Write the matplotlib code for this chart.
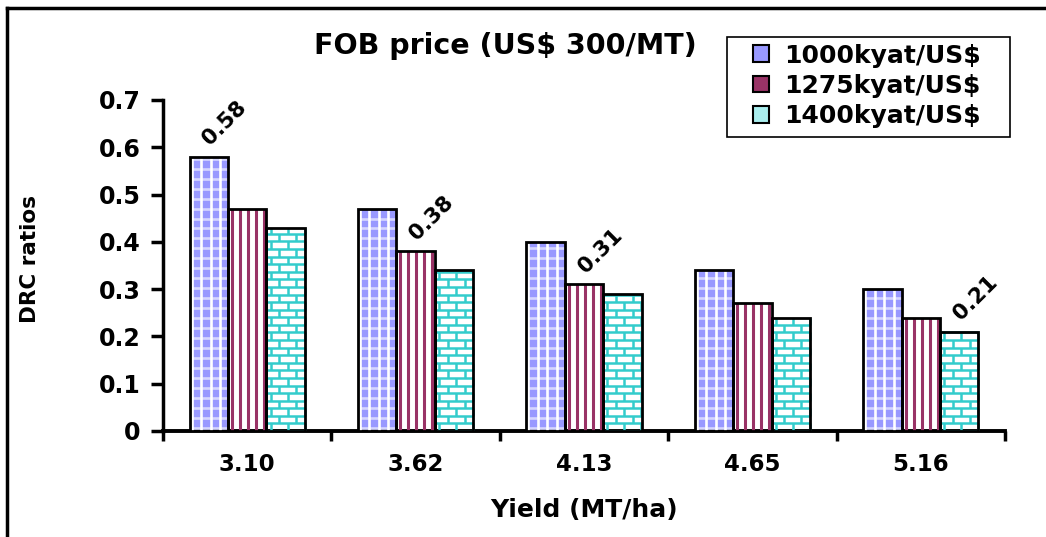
import matplotlib
matplotlib.use("Agg")
import matplotlib.pyplot as plt
from matplotlib.lines import Line2D
from matplotlib.patches import Patch, Rectangle
from matplotlib.collections import LineCollection
import numpy as np

plt.rcParams['font.family'] = ['DejaVu Sans']
plt.rcParams['font.weight'] = 'bold'

# Data
categories = ['3.10', '3.62', '4.13', '4.65', '5.16']
series_names = ['1000kyat/US$', '1275kyat/US$', '1400kyat/US$']
drc_1000 = [0.58, 0.47, 0.40, 0.34, 0.30]
drc_1275 = [0.47, 0.38, 0.31, 0.27, 0.24]
drc_1400 = [0.43, 0.34, 0.29, 0.24, 0.21]
yticks = [0, 0.1, 0.2, 0.3, 0.4, 0.5, 0.6, 0.7]
ytick_labels = ['0', '0.1', '0.2', '0.3', '0.4', '0.5', '0.6', '0.7']
# (series index, category index) of the bars carrying a value label
labelled = [(0, 0), (1, 1), (1, 2), (2, 4)]

blue = '#9999ff'
wine = '#993366'
teal = '#33cccc'

fig = plt.figure(figsize=(10.46, 5.37), dpi=100)
ax = fig.add_axes([0.1558, 0.1974, 0.9608 - 0.1558, 0.8138 - 0.1974])

x = np.arange(len(categories))
w = 0.228
series = [drc_1000, drc_1275, drc_1400]
offsets = [-w, 0, w]

# Fill patterns are drawn as line work inside each bar (data units)
px_x = 1.0 / 168.4      # one pixel along x
px_y = 0.1 / 47.4       # one pixel along y


def plaid_segments(x0, wd, h):
    vert, horiz = [], []
    step_x, step_y = 9.5 * px_x, 10 * px_y
    for xv in np.arange(x0 + 2 * px_x, x0 + wd, step_x):
        vert.append([(xv, 0), (xv, h)])
    for yv in np.arange(3 * px_y, h, step_y):
        horiz.append([(x0, yv), (x0 + wd, yv)])
    return vert, horiz


def stripe_segments(x0, wd, h):
    step = 8 * px_x
    return [[(xv, 0), (xv, h)]
            for xv in np.arange(x0 + 4 * px_x, x0 + wd - px_x, step)]


def brick_segments(x0, wd, h):
    dy, dx = 7.6 * px_y, 17 * px_x
    segs = []
    k = 0
    while k * dy < h:
        y = k * dy
        y_top = min(y + dy, h)
        segs.append([(x0, y), (x0 + wd, y)])
        off = (k % 2) * dx / 2
        for xv in np.arange(x0 + dx / 4 + off, x0 + wd, dx):
            segs.append([(xv, y), (xv, y_top)])
        k += 1
    return segs


# Series 1: blue plaid
c0 = ax.bar(x + offsets[0], drc_1000, w, color=blue, linewidth=0, zorder=2)
for p in c0.patches:
    vert, horiz = plaid_segments(p.get_x(), p.get_width(), p.get_height())
    ax.add_collection(LineCollection(horiz, colors='#d6d6ff',
                                     linewidths=1.9, zorder=3))
    ax.add_collection(LineCollection(vert, colors='white',
                                     linewidths=1.9, zorder=3))

# Series 2: vertical wine stripes
c1 = ax.bar(x + offsets[1], drc_1275, w, color='white', linewidth=0, zorder=2)
for p in c1.patches:
    ax.add_collection(LineCollection(
        stripe_segments(p.get_x(), p.get_width(), p.get_height()),
        colors=wine, linewidths=2.2, zorder=3))

# Series 3: teal brick
c2 = ax.bar(x + offsets[2], drc_1400, w, color='white', linewidth=0, zorder=2)
for p in c2.patches:
    ax.add_collection(LineCollection(
        brick_segments(p.get_x(), p.get_width(), p.get_height()),
        colors=teal, linewidths=1.8, zorder=3))

# Black outlines on top of all bars
for vals, off in zip(series, offsets):
    ax.bar(x + off, vals, w, facecolor='none', edgecolor='black',
           linewidth=2.0, zorder=4)

# Value labels
for si, ci in labelled:
    v = series[si][ci]
    ax.text(x[ci] + offsets[si] + 0.01, v + 0.022, f'{v:.2f}',
            rotation=45, rotation_mode='anchor', ha='left', va='baseline',
            fontsize=15.5, fontweight='bold', zorder=5)

ax.set_xlim(-0.5, len(categories) - 0.5)
ax.set_ylim(0, 0.7)
ax.set_yticks(yticks)
ax.set_yticklabels(ytick_labels, fontsize=17, fontweight='bold')
ax.set_xticks(np.arange(len(categories) + 1) - 0.5)
ax.set_xticklabels([])
ax.set_xticks(x, minor=True)
ax.set_xticklabels(categories, minor=True, fontsize=16.5, fontweight='bold')
ax.tick_params(axis='x', which='minor', length=0, pad=16)
ax.tick_params(axis='x', which='major', length=7, width=2.5, direction='out')
ax.tick_params(axis='y', length=9, width=2.5, direction='out', pad=7)
for s in ['top', 'right']:
    ax.spines[s].set_visible(False)
ax.spines['left'].set_linewidth(2.5)
ax.spines['bottom'].set_linewidth(2.8)

ax.set_xlabel('Yield (MT/ha)', fontsize=18, fontweight='bold', labelpad=16)
fig.text(0.029, 0.518, 'DRC ratios', rotation=90, ha='center', va='center',
         fontsize=15.5, fontweight='bold')
fig.text(0.483, 0.915, 'FOB price (US$ 300/MT)', ha='center', va='center',
         fontsize=20.5, fontweight='bold')

# Legend
handles = [Patch(facecolor=blue, edgecolor='black', linewidth=1.5),
           Patch(facecolor=wine, edgecolor='black', linewidth=1.5),
           Patch(facecolor='#aaeeee', edgecolor='black', linewidth=1.5)]
leg = fig.legend(handles, series_names, loc='upper left',
                 bbox_to_anchor=(745 / 1046, 1 - 36 / 537), frameon=False,
                 prop={'weight': 'bold', 'size': 18},
                 handlelength=0.65, handleheight=0.65, handletextpad=0.6,
                 labelspacing=0.25, borderpad=0.3, borderaxespad=0)
fig.add_artist(Rectangle((727 / 1046, 1 - 137 / 537), 283 / 1046, 100 / 537,
                         transform=fig.transFigure, facecolor='none',
                         edgecolor='black', linewidth=1.2))

# Outer frame lines (top and left)
fig.add_artist(Line2D([7 / 1046, 1.0], [1 - 8 / 537, 1 - 8 / 537],
                      transform=fig.transFigure, color='black', linewidth=2.5))
fig.add_artist(Line2D([7 / 1046, 7 / 1046], [0.0, 1 - 8 / 537],
                      transform=fig.transFigure, color='black', linewidth=2.5))

fig.savefig('out.png', dpi=100)
